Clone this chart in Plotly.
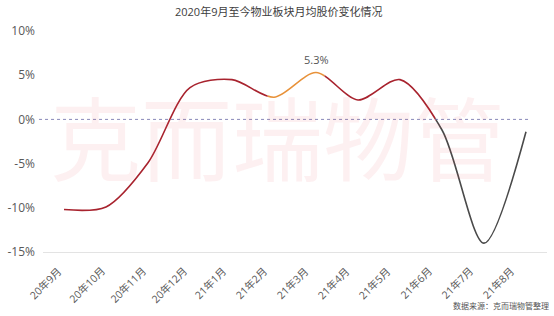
import plotly.graph_objects as go

months = ["20年9月", "20年10月", "20年11月", "20年12月", "21年1月", "21年2月",
          "21年3月", "21年4月", "21年5月", "21年6月", "21年7月", "21年8月"]
values = [-10.2, -9.9, -4.9, 3.6, 4.5, 2.5, 5.3, 2.2, 4.5, -1.2, -14.0, -1.4]
y_ticks = [-15, -10, -5, 0, 5, 10]
y_tick_text = [f"{v}%" for v in y_ticks]
peak_label = "5.3%"
title_text = "2020年9月至今物业板块月均股价变化情况"
source_text = "数据来源：克而瑞物管整理"
watermark = "克而瑞物管"

RED = "#a8232e"
ORANGE = "#e8923a"
GRAY = "#4a4a4a"
FONT = "Open Sans, Noto Sans CJK SC"
SMOOTH = 0.85
n = len(months)

W, H = 554, 316
ML, MR, MT, MB = 41, 7, 31, 64
PW, PH = W - ML - MR, H - MT - MB

def px(x):
    return (x - ML) / PW

def py(y):
    return (H - MB - y) / PH

def dom(a, b):
    return [(a + 0.5) / n, (b + 0.5) / n]

fig = go.Figure()
common = dict(x=months, y=values, mode="lines", hoverinfo="skip", showlegend=False)
fig.add_trace(go.Scatter(**common, line=dict(color=RED, width=1.6, shape="spline", smoothing=SMOOTH), xaxis="x", yaxis="y"))
orange_rng = (4.85, 6.2)
gray_rng = (8.85, 11.5)
fig.add_trace(go.Scatter(**common, line=dict(color=ORANGE, width=1.6, shape="spline", smoothing=SMOOTH), xaxis="x2", yaxis="y"))
fig.add_trace(go.Scatter(**common, line=dict(color=GRAY, width=1.6, shape="spline", smoothing=SMOOTH), xaxis="x3", yaxis="y"))

hidden = dict(type="category", categoryorder="array", categoryarray=months, visible=False,
              anchor="y", fixedrange=True)
fig.update_layout(
    width=W, height=H,
    margin=dict(l=ML, r=MR, t=MT, b=MB),
    paper_bgcolor="white", plot_bgcolor="white",
    font=dict(family=FONT, color="#595959"),
    xaxis=dict(type="category", categoryorder="array", categoryarray=months,
               range=[-0.5, n - 0.5], domain=[0, 1], showticklabels=False,
               showgrid=False, zeroline=False, showline=True, linecolor="#e3e3e3", linewidth=1),
    xaxis2=dict(**hidden, range=list(orange_rng), domain=dom(*orange_rng)),
    xaxis3=dict(**hidden, range=list(gray_rng), domain=dom(*gray_rng)),
    yaxis=dict(range=[-15, 10], tickmode="array", tickvals=y_ticks, ticktext=y_tick_text,
               showgrid=False, zeroline=False, showline=False,
               tickfont=dict(size=12, color="#595959"), ticklabelstandoff=7),
)

# rotated category labels: their centres follow a slightly narrower step than the points
label_c0, label_step = 44, 41.3
band = PW / n
for i, m in enumerate(months):
    tick_px = ML + (i + 0.5) * band
    shift = (label_c0 + i * label_step) - tick_px
    fig.add_annotation(text=m, x=m, xref="x", yref="paper", y=0, xanchor="center", yanchor="top",
                       textangle=-45, showarrow=False, xshift=shift, yshift=-11, borderpad=0,
                       font=dict(size=10.5, color="#595959", family=FONT))

fig.add_shape(type="line", xref="paper", yref="y", x0=px(37), x1=px(528), y0=0, y1=0,
              line=dict(color="#6a6aa6", width=0.8, dash="dot"))

fig.add_annotation(text=title_text, xref="paper", yref="paper", x=px(277), y=py(11),
                   xanchor="center", yanchor="middle", showarrow=False,
                   font=dict(size=11, color="#404040", family=FONT))
fig.add_annotation(text=watermark, xref="paper", yref="paper", x=px(276), y=py(134),
                   xanchor="center", yanchor="middle", showarrow=False,
                   font=dict(size=91, color="rgba(235,60,80,0.08)", family="Noto Sans CJK SC"))
fig.add_annotation(text=peak_label, x=months[values.index(max(values))], y=max(values),
                   xanchor="center", yanchor="bottom", yshift=4, showarrow=False,
                   font=dict(size=11, color="#555555", family=FONT))
fig.add_annotation(text=source_text, xref="paper", yref="paper", x=px(551), y=py(305),
                   xanchor="right", yanchor="middle", showarrow=False,
                   font=dict(size=8, color="#555555", family="Noto Sans CJK SC"))

fig.write_html("out.html")
